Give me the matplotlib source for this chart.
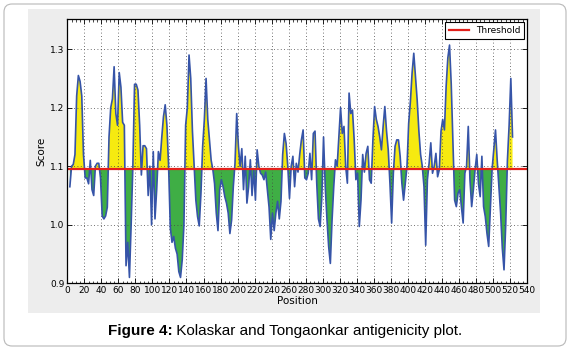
import numpy as np
import matplotlib
matplotlib.use('Agg')
import matplotlib.pyplot as plt
from matplotlib.patches import Rectangle, FancyBboxPatch
from matplotlib.transforms import IdentityTransform
from matplotlib.ticker import MultipleLocator

# positions of the sliding window centre (every 2nd residue)
positions = np.arange(3, 524, 2)

# Kolaskar & Tongaonkar scores
scores_a = [1.065, 1.100, 1.103, 1.120, 1.220, 1.255, 1.245, 1.220, 1.120, 1.080, 1.080,
            1.070, 1.110, 1.060, 1.050, 1.100, 1.105, 1.105, 1.080, 1.015, 1.010, 1.015,
            1.030, 1.150, 1.200, 1.215, 1.270, 1.190, 1.170, 1.260, 1.235, 1.175, 1.170]
scores_b = [0.930, 0.970, 0.910, 1.000, 1.100, 1.240, 1.240, 1.230, 1.170, 1.085, 1.135,
            1.135, 1.130, 1.050, 1.100, 1.000, 1.125, 1.010, 1.060, 1.125, 1.110, 1.150,
            1.185, 1.205, 1.170, 1.100, 0.995, 0.970, 0.980, 0.960, 0.950, 0.920, 0.910,
            0.940, 1.000, 1.170, 1.200]
scores_c = [1.290, 1.250, 1.160, 1.100, 1.042, 1.014, 0.998, 1.054, 1.134, 1.180, 1.250,
            1.180, 1.145, 1.110, 1.094, 1.070, 1.020, 0.990, 1.060, 1.077, 1.065, 1.048,
            1.037, 1.020, 0.985, 1.008, 1.065, 1.105, 1.190, 1.134, 1.100, 1.130, 1.060,
            1.117, 1.037]
scores_d = [1.065, 1.111, 1.050, 1.094, 1.042, 1.128, 1.100, 1.088, 1.085, 1.077, 1.090,
            1.060, 1.030, 0.975, 1.020, 0.990, 1.020, 1.040, 1.010, 1.040, 1.120, 1.156,
            1.139, 1.100, 1.045, 1.100, 1.117, 1.065, 1.105, 1.090, 1.120, 1.145, 1.162,
            1.080, 1.077]
scores_e = [1.088, 1.122, 1.077, 1.156, 1.160, 1.071, 1.010, 0.997, 1.048, 1.150, 1.065,
            1.010, 0.963, 0.934, 1.008, 1.065, 1.111, 1.100, 1.150, 1.200, 1.156, 1.168,
            1.100, 1.071, 1.225, 1.190, 1.196, 1.145, 1.077, 1.088, 0.997, 1.042, 1.120,
            1.090, 1.122]
scores_f = [1.134, 1.077, 1.071, 1.145, 1.202, 1.180, 1.168, 1.150, 1.128, 1.168, 1.202,
            1.160, 1.128, 1.071, 1.003, 1.088, 1.134, 1.145, 1.145, 1.117, 1.071, 1.042,
            1.070, 1.099, 1.173, 1.210, 1.259, 1.293, 1.253, 1.213, 1.160, 1.120, 1.100,
            1.065, 0.965, 1.077]
scores_g = [1.105, 1.140, 1.088, 1.100, 1.122, 1.082, 1.094, 1.160, 1.180, 1.162, 1.236,
            1.285, 1.307, 1.240, 1.140, 1.042, 1.031, 1.054, 1.060, 1.030, 1.003, 1.088,
            1.100, 1.168, 1.077, 1.031, 1.060, 1.094, 1.120, 1.070, 1.048, 1.117, 1.031,
            1.014, 0.985, 0.963]
scores_h = [1.030, 1.095, 1.128, 1.162, 1.110, 1.065, 1.020, 0.960, 0.923, 1.000, 1.110,
            1.170, 1.250, 1.150]

scores = np.array(scores_a + scores_b + scores_c + scores_d + scores_e + scores_f
                  + scores_g + scores_h)
threshold = 1.095

xticks = list(range(0, 541, 20))
yticks = [0.9, 1.0, 1.1, 1.2, 1.3]
ytick_labels = ['0.9', '1.0', '1.1', '1.2', '1.3']

W, H = 570, 350
fig = plt.figure(figsize=(W / 100, H / 100), dpi=100)
fig.patch.set_facecolor('white')

# outer rounded frame and the grey panel behind the plot
fig.patches.append(FancyBboxPatch((4, 4), W - 8, H - 8,
                                  boxstyle='round,pad=0,rounding_size=8',
                                  transform=IdentityTransform(), fc='white',
                                  ec='#b8b8b8', lw=0.8, zorder=-2))
fig.patches.append(Rectangle((28, H - 313), 512, 304, transform=IdentityTransform(),
                             fc='#ededed', ec='none', zorder=-1))

ax = fig.add_axes([67.3 / W, 1 - 283.3 / H, (527 - 67.3) / W, (283.3 - 19.3) / H])
ax.set_facecolor('white')

above = scores >= threshold
ax.fill_between(positions, scores, threshold, where=above, interpolate=True,
                color='#f6ea10', lw=0)
ax.fill_between(positions, scores, threshold, where=~above, interpolate=True,
                color='#3fae45', lw=0)
ax.plot(positions, scores, color='#3654a8', lw=1.2)
ax.axhline(threshold, color='#e3201b', lw=1.6, label='Threshold')

ax.set_xlim(0, 540)
ax.set_ylim(0.9, 1.351)
ax.set_xticks(xticks)
ax.set_yticks(yticks)
ax.set_yticklabels(ytick_labels)
ax.xaxis.set_minor_locator(MultipleLocator(5))
ax.tick_params(which='both', direction='in', top=True, right=True, labelsize=6.5, pad=2)
ax.tick_params(which='major', length=3.5, width=0.6)
ax.tick_params(which='minor', length=1.8, width=0.5)
ax.grid(True, which='major', ls=(0, (1, 3)), color='#444444', lw=0.6)
for s in ax.spines.values():
    s.set_linewidth(0.9)

ax.set_xlabel('Position', fontsize=7.5, labelpad=1)
ax.set_ylabel('Score', fontsize=7.5, labelpad=3)

leg = ax.legend(loc='upper right', fontsize=6.5, fancybox=False, framealpha=1,
                edgecolor='black', handlelength=2.2, borderpad=0.4,
                borderaxespad=0.35)
leg.get_frame().set_linewidth(0.8)

# caption: bold "Figure 4:" followed by plain text, centred as a whole
cap_y = 1 - 331 / H
t1 = fig.text(0, cap_y, 'Figure 4:', fontsize=11, fontweight='bold',
              family='Liberation Sans', va='center')
t2 = fig.text(0, cap_y, ' Kolaskar and Tongaonkar antigenicity plot.', fontsize=11,
              family='Liberation Sans', va='center')
fig.canvas.draw()
r = fig.canvas.get_renderer()
w1 = t1.get_window_extent(r).width
w2 = t2.get_window_extent(r).width
x0 = (W / 2 - (w1 + w2) / 2) / W
t1.set_x(x0)
t2.set_x(x0 + w1 / W)

fig.savefig('out.png', dpi=100)
